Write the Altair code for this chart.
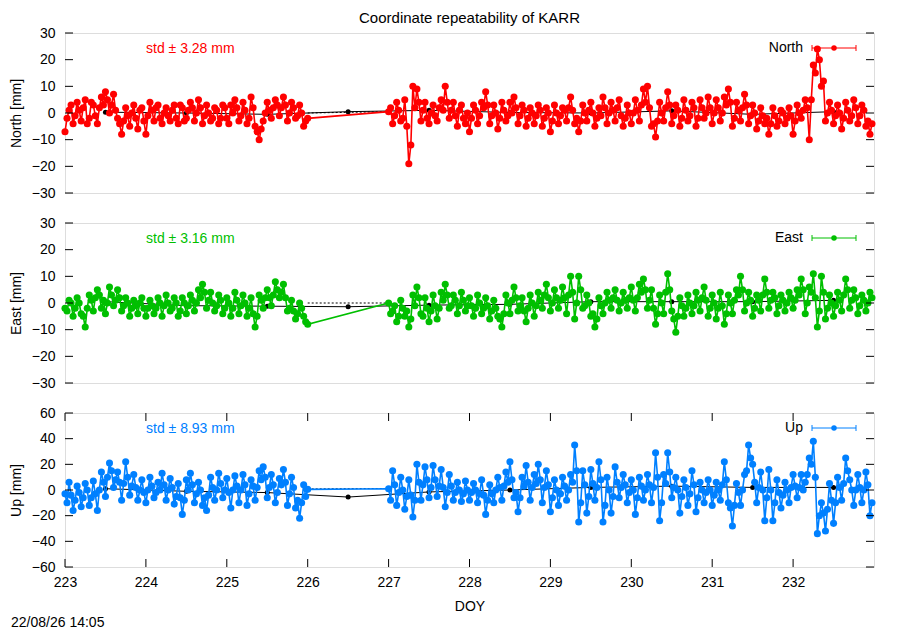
import altair as alt
import pandas as pd

FONT = "Liberation Sans"
TITLE = "Coordinate repeatability of KARR"
STAMP = "22/08/26 14:05"
X_TITLE = "DOY"
X_DOMAIN = [223, 233]
X_TICKS = [223, 224, 225, 226, 227, 228, 229, 230, 231, 232]

SEG1_START = 223.0   # first block of epochs (DOY)
SEG2_START = 227.0   # second block after the data gap
STEP = 0.05          # spacing of the "a" epochs; "b" epochs sit half-way between

# ---------------- North (mm) ----------------
north_a1 = [
    -7, 1, -4, 4, -3, 5, -2, 3, -4, 6,
    8, 0, 7, -2, -8, 2, -5, 3, -6, 2,
    -8, 4, -3, 3, -4, 2, -3, 3, -4, 2,
    -2, 4, -3, 5, -4, 3, -3, 2, -4, 3,
    -2, 3, 5, -3, 4, -4, 6, -5, -10, -3,
    4, -2, 5, -1, 6, -3, 4, -2, 3, -5,
    -2,
]
north_b1 = [
    -2, 3, -1, 1, 2, -4, 4, -1, 2, 3,
    5, 3, 1, -4, -3, -1, 0, -2, 1, -3,
    -1, 1, 2, -2, 0, -1, 1, -2, 3, -3,
    1, 2, 0, 2, -1, 0, -2, 1, -2, 2,
    -4, 0, 2, -1, 1, -2, 2, -7, -6, 0,
    1, 2, 3, 2, 3, 0, 2, -1, 0, -3,
]
north_a2 = [
    0.5, -4, 4, -3, 5, -19, 10, 9, -3, 4,
    -4, 3, -3, 5, 10, -2, 4, -5, 3, -4,
    -7, 3, -4, 4, 8, -4, 3, -6, 4, -3,
    4, 6, -4, 3, -5, 2, -4, 3, -5, 2,
    -7, 3, -4, 2, -3, 6, -4, -7, 3, -3,
    4, -5, 2, 6, -4, 4, -3, 5, -5, 3,
    -4, 5, -3, 9, 10, -5, -9, 4, -3, 8,
    -4, 3, -5, 5, -3, 4, -5, 5, -2, 6,
    -4, 5, -3, 6, 9, -5, 4, -3, 7, -4,
    3, -6, 2, -4, -8, 2, -5, 1, -4, 2,
    -8, 3, -2, 5, -10, 18, 24, 10, -3, 4,
    -4, 3, -6, 4, -3, 5, -4, 3, -5, -8,
]
north_b2 = [
    2, -1, 1, -2, -5, -12, 2, 4, 1, -2,
    0, -1, 2, 1, 4, 1, -1, 1, -2, 0,
    -2, 1, -1, 2, 3, -1, 0, -2, 1, -1,
    0, 2, -1, 1, -2, 0, -1, 1, -2, 0,
    -3, 0, -1, 1, 2, 1, -2, -3, 0, 1,
    0, -2, -1, 2, 0, 1, 2, -1, -2, 0,
    0, 1, 3, 4, 2, -4, -3, 0, 2, 3,
    -1, 1, -2, 1, -1, 2, -2, 2, 0, 2,
    0, 2, 0, 3, 4, -2, 1, 2, 3, -1,
    0, -3, -1, -2, -4, -1, -3, 0, -2, -1,
    -3, 0, 1, 2, 5, 15, 20, 12, 0, 1,
    -1, 0, -2, 1, -1, 2, -1, 1, -3, -4,
]

# ---------------- East (mm) ----------------
east_a1 = [
    -2, 1, -5, 2, -4, -9, 3, -3, 5, -2,
    -4, 6, -1, 5, -3, 2, -5, 1, -4, 2,
    -5, 1, -4, 2, -5, 3, -3, 2, -5, 2,
    -4, 3, -3, 5, 7, -2, 4, -3, 3, -4,
    2, -5, 4, -4, 3, -5, 2, -9, 3, -2,
    5, -1, 8, 2, 7, -3, 1, -6, 0, -5,
    -8,
]
east_b1 = [
    -3, 0, -2, 0, -5, -2, 1, 2, 3, 1,
    0, 3, 1, 2, -1, 0, -2, -1, 0, -2,
    -2, -1, -2, 0, -1, 0, -2, 0, -3, 0,
    -1, 1, 0, 2, 4, 1, 0, -1, 1, -2,
    0, -2, 1, -1, 0, -2, -4, -5, 1, 2,
    2, 3, 5, 4, 2, -2, -3, -4, -2, -7,
]
east_a2 = [
    0, -3, -7, 1, -5, -9, 3, 6, -4, 2,
    -7, 3, -6, 4, 7, -2, 3, -4, 4, -3,
    2, -5, 3, -4, 2, -6, 1, -5, -9, 3,
    -4, 6, -3, 2, -7, 3, -5, 4, -2, 7,
    -3, 5, -2, 6, -4, 10, -6, 10, -2, 3,
    -5, -9, 2, -4, 4, -2, 5, -3, 4, -2,
    6, -3, 7, 9, -2, 5, -8, 3, -4, 11,
    -3, -11, 2, -5, 3, -4, 4, -3, 6, -5,
    3, -6, 4, -8, 3, -4, 5, 10, -3, 4,
    -5, 3, -3, 9, -2, 4, -4, 3, -3, 4,
    -2, 5, 9, -4, 6, 11, -9, 10, -6, 3,
    -5, 4, -3, 9, -2, 5, -4, 3, -3, 4,
]
east_b2 = [
    -4, -1, -5, -2, -3, -6, -1, 2, -5, -2,
    -3, -1, -2, 1, 3, -1, 1, -1, 1, -1,
    -1, -2, 0, -2, -1, -3, -2, -6, -4, 0,
    1, 2, -1, -3, -2, 0, -1, 1, 3, 2,
    0, 2, 1, 2, 3, 4, 0, 5, -1, 0,
    -4, -6, -1, 0, 1, 2, 1, 0, 1, 2,
    1, 2, 4, 5, 1, -2, -4, 0, 4, 5,
    -6, -5, -1, -2, 0, -1, 1, 2, 1, -2,
    0, -2, -1, -4, 0, 1, 3, 5, 0, 1,
    -2, 1, 3, 4, 1, 2, -1, 1, 0, 2,
    1, 3, 5, 0, 4, 2, -3, 4, -2, 0,
    -1, 1, 3, 5, 1, 2, -1, 1, 0, 2,
]

# ---------------- Up (mm) ----------------
up_a1 = [
    -3, 6, -16, 3, -13, 5, -12, 7, -16, 14,
    -5, 21, 2, 14, -8, 22, -4, 12, -8, 8,
    -10, 10, -6, 6, 13, -8, 9, -11, 5, -19,
    8, 13, -10, 6, -12, -16, 10, -8, 13, -6,
    9, -14, 11, -10, 12, -12, 8, -8, 15, 18,
    -6, 12, -10, 9, 16, -12, 10, -14, -22, 4,
    0.5,
]
up_b1 = [
    -10, -4, -8, -2, -6, 0, -6, -3, 0, 6,
    10, 15, 8, 6, 5, 10, 3, 2, 0, -2,
    0, 3, -2, 0, 4, 0, 2, -5, -6, -8,
    0, 4, -3, 0, -6, -4, 2, 0, 5, 0,
    -2, 0, 3, 0, 4, -3, 3, 2, 8, 10,
    2, 4, -2, 4, 6, -3, 2, -8, -10, -5,
]
up_a2 = [
    1, 15, -12, 10, -15, 8, -21, 20, -8, 18,
    -6, 19, -5, 16, -13, 12, -8, 6, -9, 7,
    -8, 5, -10, 8, -19, 4, -10, 10, -8, 14,
    22, -6, -17, 10, 19, -8, 12, 20, -10, 15,
    -17, 8, -12, 10, -8, 12, 35, -25, 15, -18,
    16, -8, 22, -25, 10, -18, 18, -6, 12, -10,
    8, -19, 10, -8, 12, -10, 29, -24, 12, 29,
    -6, 10, -18, 8, -12, 15, -17, 6, -10, 8,
    -12, 6, -8, 22, -10, -28, 5, -12, 12, 35,
    20, -10, 14, -24, 16, -24, 8, -14, 6, -10,
    12, -6, 12, 6, 25, 38, -34, -10, -32, 5,
    -26, 10, -8, 25, 8, -12, 12, -10, 14, -20,
]
up_b2 = [
    -8, 4, -2, 0, -5, -4, -8, 6, 4, 8,
    2, 8, 3, 2, -2, 3, -2, 0, -3, 0,
    -2, 0, -3, -4, -8, -3, 0, 2, 3, 6,
    8, -2, -6, 3, 6, 2, 5, 8, 2, 4,
    -6, 0, -3, 3, 0, 6, 15, -10, 4, -5,
    5, 2, 8, -12, 0, -5, 6, 2, 4, -2,
    0, -6, 3, 0, 4, 2, 10, -10, 5, 14,
    2, 0, -5, 2, -3, 4, -6, 0, -2, 0,
    -4, 0, 4, 8, -14, -12, -2, 0, 15, 25,
    6, 2, 0, -6, 0, -10, -2, -4, 0, 2,
    3, 2, 0, 12, 20, 10, -20, -18, -15, -8,
    -10, 2, 5, 15, 0, 0, 2, 0, 4, -10,
]

# daily solutions (black) at noon of each day
DAILY_DOY = [223.5, 224.5, 225.5, 226.5, 227.5, 228.5, 229.5, 230.5, 231.5, 232.5]
north_daily = [0.3, 0.0, -0.5, 0.5, 1.0, 0.2, 0.0, 0.8, -0.5, 0.5]
east_daily = [0.5, -1.0, -1.2, -1.4, -0.8, -0.5, 0.5, 0.5, 0.5, 1.0]
up_daily = [1.0, -1.0, -2.0, -5.5, -1.5, 0.0, 2.0, 3.0, 2.0, 2.0]

# dotted reference across the data gap
GAP_DOY = [226.0, 227.0]
north_gap = [0.0, 0.5]
east_gap = [0.0, 0.0]
up_gap = [0.8, 1.2]

NE_TICKS = [-30, -20, -10, 0, 10, 20, 30]
UP_TICKS = [-60, -40, -20, 0, 20, 40, 60]

PANELS = [
    dict(name="North", color="#ff0000", a1=north_a1, b1=north_b1, a2=north_a2, b2=north_b2,
         daily=north_daily, gap=north_gap, dom=[-30, 30], ticks=NE_TICKS,
         std="std \u00b1 3.28 mm", h=160, showx=False, title=True),
    dict(name="East", color="#00bf00", a1=east_a1, b1=east_b1, a2=east_a2, b2=east_b2,
         daily=east_daily, gap=east_gap, dom=[-30, 30], ticks=NE_TICKS,
         std="std \u00b1 3.16 mm", h=160, showx=False, title=False),
    dict(name="Up", color="#0080ff", a1=up_a1, b1=up_b1, a2=up_a2, b2=up_b2,
         daily=up_daily, gap=up_gap, dom=[-60, 60], ticks=UP_TICKS,
         std="std \u00b1 8.93 mm", h=154, showx=True, title=False),
]

W = 809


def epochs(vals, start, half):
    off = STEP / 2 if half else 0.0
    return [round(start + off + STEP * i, 4) for i in range(len(vals))]


def make_panel(p):
    H = p["h"]
    times = (epochs(p["a1"], SEG1_START, False) + epochs(p["b1"], SEG1_START, True)
             + epochs(p["a2"], SEG2_START, False) + epochs(p["b2"], SEG2_START, True))
    vals = list(p["a1"]) + list(p["b1"]) + list(p["a2"]) + list(p["b2"])
    df = pd.DataFrame({"doy": times, "val": vals}).sort_values("doy").reset_index(drop=True)
    daily = pd.DataFrame({"doy": DAILY_DOY, "val": p["daily"]})
    gap = pd.DataFrame({"doy": GAP_DOY, "val": p["gap"]})
    yt = pd.DataFrame({"t": p["ticks"]})
    xt = pd.DataFrame({"t": X_TICKS})
    one = pd.DataFrame({"label": [p["name"]], "std": [p["std"]], "stamp": [STAMP],
                        "title": [TITLE]})

    xscale = alt.Scale(domain=X_DOMAIN, nice=False, zero=False)
    yscale = alt.Scale(domain=p["dom"], nice=False, zero=False)
    if p["showx"]:
        xaxis = alt.Axis(values=X_TICKS, format="d", title=X_TITLE, ticks=False, tickSize=0,
                         domain=False, grid=False, labelFontSize=14, titleFontSize=14,
                         titleFontWeight="normal", labelPadding=8, titlePadding=10,
                         labelFlush=False, labelOverlap=False, labelFont=FONT, titleFont=FONT,
                         labelColor="black", titleColor="black")
    else:
        xaxis = None
    yaxis = alt.Axis(values=p["ticks"], format="d", title=f"{p['name']} [mm]", ticks=False,
                     tickSize=0, domain=False, grid=False, labelFontSize=14, titleFontSize=14,
                     titleFontWeight="normal", labelPadding=10, titlePadding=12,
                     minExtent=30, maxExtent=30, labelFlush=False, labelOverlap=False,
                     labelFont=FONT, titleFont=FONT, labelColor="black", titleColor="black")

    def X(f):
        return alt.X(f"{f}:Q", scale=xscale, axis=xaxis)

    def Y(f):
        return alt.Y(f"{f}:Q", scale=yscale, axis=yaxis)

    col = p["color"]
    layers = [
        alt.Chart(gap).mark_line(color="black", strokeWidth=1, strokeDash=[2, 2])
        .encode(x=X("doy"), y=Y("val")),
        alt.Chart(daily).mark_line(color="black", strokeWidth=1)
        .encode(x=X("doy"), y=Y("val")),
        alt.Chart(daily).mark_circle(color="black", size=25, opacity=1)
        .encode(x=X("doy"), y=Y("val")),
        alt.Chart(df).mark_line(color=col, strokeWidth=1.6)
        .encode(x=X("doy"), y=Y("val"), order="doy:Q"),
        alt.Chart(df).mark_circle(color=col, size=50, opacity=1)
        .encode(x=X("doy"), y=Y("val")),
        # inward y ticks, left and right
        alt.Chart(yt).mark_rule(color="black", strokeWidth=1)
        .encode(y=Y("t"), x=alt.value(0), x2=alt.value(8)),
        alt.Chart(yt).mark_rule(color="black", strokeWidth=1)
        .encode(y=Y("t"), x=alt.value(W - 8), x2=alt.value(W)),
        # legend sample
        alt.Chart(one).mark_text(align="right", baseline="middle", fontSize=14, font=FONT,
                                 color="black")
        .encode(x=alt.value(W - 71), y=alt.value(15), text="label:N"),
        alt.Chart(one).mark_rule(color=col, strokeWidth=1)
        .encode(x=alt.value(W - 62), x2=alt.value(W - 18), y=alt.value(15)),
        alt.Chart(one).mark_rule(color=col, strokeWidth=1)
        .encode(x=alt.value(W - 62), y=alt.value(12), y2=alt.value(18)),
        alt.Chart(one).mark_rule(color=col, strokeWidth=1)
        .encode(x=alt.value(W - 18), y=alt.value(12), y2=alt.value(18)),
        alt.Chart(one).mark_circle(color=col, size=30, opacity=1)
        .encode(x=alt.value(W - 40), y=alt.value(15)),
        # std annotation
        alt.Chart(one).mark_text(align="left", baseline="middle", fontSize=14, font=FONT,
                                 color=col)
        .encode(x=alt.value(81), y=alt.value(16), text="std:N"),
    ]
    if p["title"]:
        layers.append(
            alt.Chart(one).mark_text(align="center", baseline="alphabetic", fontSize=15,
                                     font=FONT, color="black")
            .encode(x=alt.value(W / 2), y=alt.value(-10.5), text="title:N"))
    if p["showx"]:
        layers += [
            alt.Chart(xt).mark_rule(color="black", strokeWidth=1)
            .encode(x=X("t"), y=alt.value(0), y2=alt.value(8)),
            alt.Chart(xt).mark_rule(color="black", strokeWidth=1)
            .encode(x=X("t"), y=alt.value(H - 8), y2=alt.value(H)),
            alt.Chart(one).mark_text(align="left", baseline="alphabetic", fontSize=14,
                                     font=FONT, color="black")
            .encode(x=alt.value(-54), y=alt.value(H + 60), text="stamp:N"),
        ]
    return alt.layer(*layers).properties(width=W, height=H)


chart = alt.vconcat(*[make_panel(p) for p in PANELS], spacing=30, bounds="flush").properties(
    padding={"left": 0, "top": 2, "right": 5, "bottom": 0}
).configure_view(stroke="black", strokeWidth=1.5).configure(font=FONT)

chart.save("out.html", embed_options={"renderer": "svg", "actions": False})
